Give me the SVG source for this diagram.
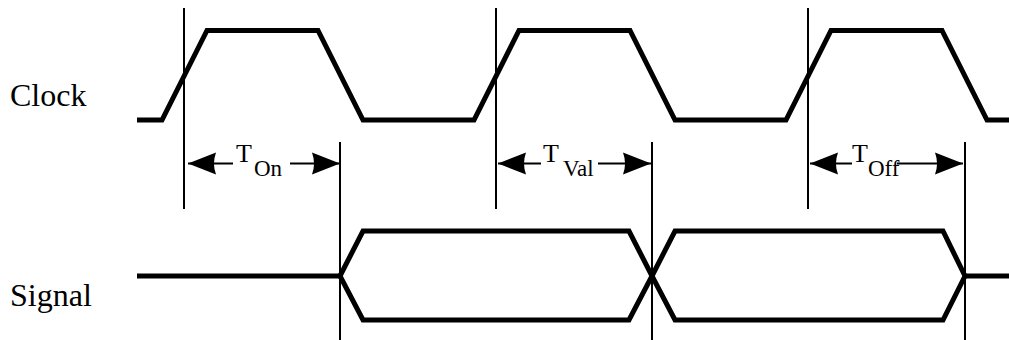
<svg xmlns="http://www.w3.org/2000/svg" width="1009" height="340" viewBox="0 0 1009 340">
<style>
.wave{fill:none;stroke:#000;stroke-width:5;stroke-linejoin:miter;stroke-linecap:butt}
.guide{stroke:#000;stroke-width:2}
.dim{stroke:#000;stroke-width:2.2;fill:none}
.lbl{font-family:"Liberation Serif","Times New Roman",serif;fill:#000}
.big{font-size:32px}
.t{font-size:26px}
.sub{font-size:23px}
</style>
<defs>
<marker id="arr" markerUnits="userSpaceOnUse" markerWidth="30" markerHeight="24" refX="28" refY="12" orient="auto">
<path d="M28,12 L0,1 Q4,12 0,23 Z" fill="#000"/>
</marker>
</defs>
<rect width="1009" height="340" fill="#fff"/>
<g id="clock-label"><text class="lbl big" x="10" y="106">Clock</text></g>
<g id="signal-label"><text class="lbl big" x="10" y="306" font-size="31">Signal</text></g>
<g id="clock-wave">
<polyline class="wave" points="137,120 162,120 207,30.5 318,30.5 363,120 474,120 519,30.5 630,30.5 675,120 786,120 831,30.5 942,30.5 987,120 1009,120"/>
</g>
<g id="signal-wave">
<polyline class="wave" points="137,276 340,276"/>
<polygon class="wave" points="340,276 363,231 629,231 652,276 629,320 363,320"/>
<polygon class="wave" points="652,276 675,231 943,231 965,276 943,320 675,320"/>
<polyline class="wave" points="965,276 1009,276"/>
</g>
<g id="guides">
<line class="guide" x1="184" y1="8" x2="184" y2="209"/>
<line class="guide" x1="496" y1="8" x2="496" y2="209"/>
<line class="guide" x1="808" y1="8" x2="808" y2="209"/>
<line class="guide" x1="340" y1="142" x2="340" y2="340"/>
<line class="guide" x1="652" y1="142" x2="652" y2="340"/>
<line class="guide" x1="965" y1="142" x2="965" y2="340"/>
</g>
<g id="connectors">
<line class="dim" x1="233" y1="163.5" x2="188" y2="163.5" marker-end="url(#arr)"/>
<line class="dim" x1="290" y1="163.5" x2="340" y2="163.5" marker-end="url(#arr)"/>
<line class="dim" x1="541" y1="163.5" x2="498" y2="163.5" marker-end="url(#arr)"/>
<line class="dim" x1="598" y1="163.5" x2="651" y2="163.5" marker-end="url(#arr)"/>
<line class="dim" x1="852" y1="163.5" x2="810" y2="163.5" marker-end="url(#arr)"/>
<line class="dim" x1="897" y1="163.5" x2="963" y2="163.5" marker-end="url(#arr)"/>
</g>
<g id="t-on"><text class="lbl t" x="236" y="162">T</text><text class="lbl sub" x="254" y="176">On</text></g>
<g id="t-val"><text class="lbl t" x="543" y="162">T</text><text class="lbl sub" x="563" y="176">Val</text></g>
<g id="t-off"><text class="lbl t" x="852" y="162">T</text><text class="lbl sub" x="868" y="176">Off</text></g>
</svg>
